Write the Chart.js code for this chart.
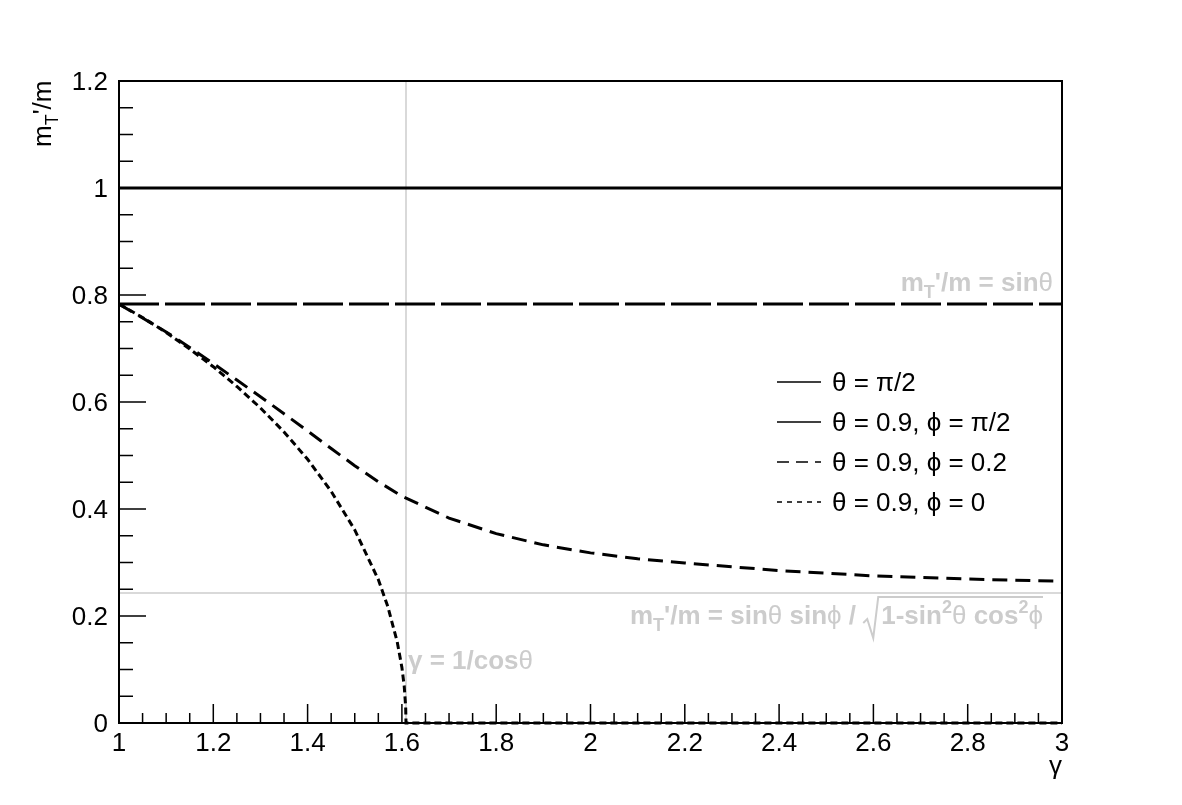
<!DOCTYPE html>
<html>
<head>
<meta charset="utf-8">
<script src="https://cdn.jsdelivr.net/npm/chart.js@4.4.1/dist/chart.umd.min.js"></script>
<style>
  body { margin: 0; background: #fff; }
  canvas { display: block; }
</style>
</head>
<body>
<canvas id="myChart" width="1182" height="805"></canvas>
<script>
// tick labels
const xTickLabels = ["1", "1.2", "1.4", "1.6", "1.8", "2", "2.2", "2.4", "2.6", "2.8", "3"];
const yTickLabels = ["0", "0.2", "0.4", "0.6", "0.8", "1", "1.2"];

// theta = pi/2 and theta = 0.9, phi = pi/2 (flat lines)
const gammaFlat = [1, 3];
const valPiHalf = [1, 1];
const valSinTheta = [0.783, 0.783];

// theta = 0.9, phi = 0.2
const gammaPhi02 = [1.0, 1.05, 1.1, 1.15, 1.2, 1.25, 1.3, 1.35, 1.4, 1.45, 1.5, 1.55, 1.6, 1.7, 1.8, 1.9, 2.0, 2.1, 2.2, 2.3, 2.4, 2.5, 2.6, 2.7, 2.8, 2.9, 3.0];
const valPhi02 = [0.783, 0.757, 0.731, 0.702, 0.672, 0.641, 0.610, 0.578, 0.546, 0.513, 0.481, 0.451, 0.424, 0.383, 0.354, 0.333, 0.318, 0.307, 0.299, 0.292, 0.285, 0.280, 0.275, 0.272, 0.269, 0.267, 0.265];

// theta = 0.9, phi = 0
const gammaPhi0 = [1.0, 1.05, 1.1, 1.15, 1.2, 1.25, 1.3, 1.35, 1.4, 1.45, 1.5, 1.55, 1.57, 1.59, 1.6, 1.605, 1.608, 1.6087, 2.0, 2.5, 3.0];
const valPhi0 = [0.783, 0.758, 0.730, 0.699, 0.666, 0.629, 0.589, 0.544, 0.493, 0.433, 0.361, 0.268, 0.218, 0.152, 0.104, 0.068, 0.030, 0, 0, 0, 0];

// reference lines
const gammaCut = 1.6087;     // gamma = 1/cos(theta)
const asymptote = 0.2429;    // large-gamma limit for phi = 0.2

const legendLabels = ["θ = π/2", "θ = 0.9, ϕ = π/2", "θ = 0.9, ϕ = 0.2", "θ = 0.9, ϕ = 0"];

const pts = (xs, ys) => xs.map((g, i) => ({ x: g, y: ys[i] }));

const FONT = "'Liberation Sans', 'DejaVu Sans', Arial, sans-serif";
const GREY = "#cccccc";

// draw a sequence of text pieces with different fonts / offsets
function drawRuns(ctx, parts, x, y, align) {
  let total = 0;
  parts.forEach(p => { ctx.font = p.font; p.w = p.gap !== undefined ? p.gap : ctx.measureText(p.t).width; total += p.w; });
  let cx = align === "right" ? x - total : x;
  const pos = [];
  parts.forEach(p => {
    pos.push(cx);
    if (p.t) { ctx.font = p.font; ctx.fillText(p.t, cx, y + (p.dy || 0)); }
    cx += p.w;
  });
  return pos;
}

const rootAxes = {
  id: "rootAxes",
  afterDatasetsDraw(chart) {
    const { ctx, chartArea: a, scales: { x, y } } = chart;
    ctx.save();

    // frame
    ctx.strokeStyle = "#000";
    ctx.lineWidth = 2;
    ctx.strokeRect(a.left, a.top, a.right - a.left, a.bottom - a.top);

    // ticks
    ctx.lineWidth = 1.5;
    ctx.beginPath();
    for (let i = 0; i <= 40; i++) {
      const px = x.getPixelForValue(1 + i * 0.05);
      const len = i % 4 === 0 ? 19 : 10;
      ctx.moveTo(px, a.bottom);
      ctx.lineTo(px, a.bottom - len);
    }
    for (let i = 0; i <= 24; i++) {
      const py = y.getPixelForValue(i * 0.05);
      const len = i % 4 === 0 ? 27 : 14;
      ctx.moveTo(a.left, py);
      ctx.lineTo(a.left + len, py);
    }
    ctx.stroke();

    const N = "26px " + FONT, B = "bold 26px " + FONT, S = "bold 18px " + FONT, SN = "18px " + FONT;

    // tick labels
    ctx.fillStyle = "#000";
    ctx.font = N;
    ctx.textBaseline = "alphabetic";
    ctx.textAlign = "center";
    xTickLabels.forEach(l => ctx.fillText(l, x.getPixelForValue(parseFloat(l)), 751));
    ctx.textAlign = "right";
    yTickLabels.forEach(l => ctx.fillText(l, 108, y.getPixelForValue(parseFloat(l)) + 9));

    // axis titles
    ctx.textAlign = "right";
    ctx.fillText("γ", 1062, 774);
    ctx.save();
    ctx.translate(51, 147);
    ctx.rotate(-Math.PI / 2);
    ctx.textAlign = "left";
    drawRuns(ctx, [
      { t: "m", font: N },
      { t: "T", font: SN, dy: 7 },
      { t: "'/m", font: N }
    ], 0, 0, "left");
    ctx.restore();

    // grey annotations
    ctx.fillStyle = GREY;
    ctx.textAlign = "left";
    drawRuns(ctx, [
      { t: "m", font: B }, { t: "T", font: S, dy: 7 }, { t: "'/m = sin", font: B }, { t: "θ", font: N }
    ], 1053, 291, "right");

    const parts = [
      { t: "m", font: B }, { t: "T", font: S, dy: 7 }, { t: "'/m = sin", font: B }, { t: "θ", font: N },
      { t: " sin", font: B }, { t: "ϕ", font: N }, { t: " / ", font: B }, { gap: 18 },
      { t: "1-sin", font: B }, { t: "2", font: S, dy: -11 }, { t: "θ", font: N },
      { t: " cos", font: B }, { t: "2", font: S, dy: -11 }, { t: "ϕ", font: N }
    ];
    const pos = drawRuns(ctx, parts, 1043, 624, "right");
    const rx = pos[7];
    ctx.strokeStyle = GREY;
    ctx.lineWidth = 2;
    ctx.beginPath();
    ctx.moveTo(rx, 623);
    ctx.lineTo(rx + 4, 619);
    ctx.lineTo(rx + 10, 638);
    ctx.lineTo(rx + 15, 597);
    ctx.lineTo(1043, 597);
    ctx.stroke();

    drawRuns(ctx, [{ t: "γ = 1/cos", font: B }, { t: "θ", font: N }], 408, 669, "left");

    // legend
    ctx.fillStyle = "#000";
    ctx.strokeStyle = "#000";
    ctx.lineWidth = 1.5;
    const dashes = [[], [], [12, 7], [5, 5]];
    legendLabels.forEach((l, i) => {
      const ly = 382 + i * 40;
      ctx.setLineDash(dashes[i]);
      ctx.beginPath();
      ctx.moveTo(777, ly);
      ctx.lineTo(821, ly);
      ctx.stroke();
      ctx.setLineDash([]);
      ctx.font = N;
      ctx.fillText(l, 832, ly + 9);
    });

    ctx.restore();
  }
};

const ctx1 = document.getElementById("myChart").getContext("2d");
new Chart(ctx1, {
  type: "line",
  data: {
    datasets: [
      { label: legendLabels[0], data: pts(gammaFlat, valPiHalf), borderColor: "#000", borderWidth: 3 },
      { label: legendLabels[1], data: pts(gammaFlat, valSinTheta), borderColor: "#000", borderWidth: 3, borderDash: [40, 6] },
      { label: legendLabels[2], data: pts(gammaPhi02, valPhi02), borderColor: "#000", borderWidth: 3, borderDash: [15, 8] },
      { label: legendLabels[3], data: pts(gammaPhi0, valPhi0), borderColor: "#000", borderWidth: 3, borderDash: [7, 4] },
      { label: "cut", data: [{ x: gammaCut, y: 0 }, { x: gammaCut, y: 1.2 }], borderColor: GREY, borderWidth: 1.5 },
      { label: "asym", data: [{ x: 1, y: asymptote }, { x: 3, y: asymptote }], borderColor: GREY, borderWidth: 1.5 }
    ]
  },
  options: {
    responsive: false,
    animation: false,
    layout: { padding: { left: 119, top: 81, right: 120, bottom: 82 } },
    elements: { point: { radius: 0 }, line: { tension: 0, fill: false } },
    datasets: { line: { clip: 4 } },
    scales: {
      x: { type: "linear", min: 1, max: 3, display: false },
      y: { type: "linear", min: 0, max: 1.2, display: false }
    },
    plugins: { legend: { display: false }, tooltip: { enabled: false } }
  },
  plugins: [rootAxes]
});
</script>
</body>
</html>
